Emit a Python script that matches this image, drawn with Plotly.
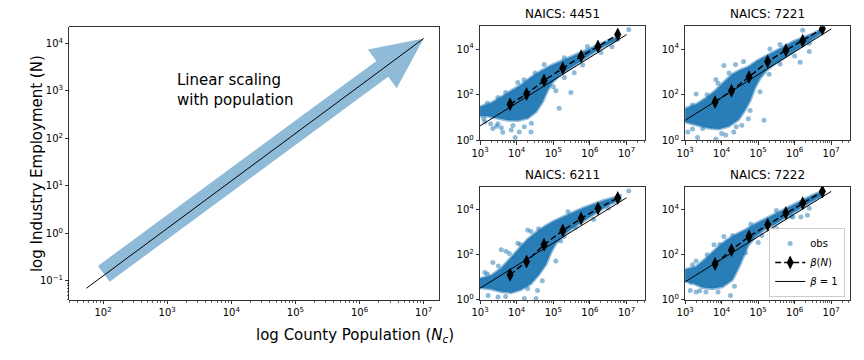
import numpy as np
import plotly.graph_objects as go

FIG_W, FIG_H = 864, 360
FONT = "DejaVu Sans"
C0 = "31,119,180"


def fx(sx):
    return sx / FIG_W


def fy(sy):
    return 1 - sy / FIG_H


# ---------------- left panel ----------------
line_pop = [5.5e1, 1.0e7]
line_emp = [7.0e-2, 1.26e4]
arrow_tail = (1.03e2, 1.41e-1)
arrow_tip = (1.0e7, 1.26e4)
left_text = "Linear scaling<br>with population"

left_xticks = [1e2, 1e3, 1e4, 1e5, 1e6, 1e7]
left_xtext = ["10<sup>2</sup>", "10<sup>3</sup>", "10<sup>4</sup>", "10<sup>5</sup>", "10<sup>6</sup>", "10<sup>7</sup>"]
left_yticks = [1e-1, 1e0, 1e1, 1e2, 1e3, 1e4]
left_ytext = ["10<sup>−1</sup>", "10<sup>0</sup>", "10<sup>1</sup>", "10<sup>2</sup>", "10<sup>3</sup>", "10<sup>4</sup>"]
left_xminor = [m * 10 ** d for d in range(1, 7) for m in range(2, 10) if 3e1 <= m * 10 ** d <= 1.7e7]
left_yminor = [0.04, 0.05, 0.06, 0.07, 0.08, 0.09]

small_xticks = [1e3, 1e4, 1e5, 1e6, 1e7]
small_xtext = ["10<sup>3</sup>", "10<sup>4</sup>", "10<sup>5</sup>", "10<sup>6</sup>", "10<sup>7</sup>"]
small_yticks = [1e0, 1e2, 1e4]
small_ytext = ["10<sup>0</sup>", "10<sup>2</sup>", "10<sup>4</sup>"]
small_xminor = [m * 10 ** d for d in range(3, 8) for m in range(2, 10) if m * 10 ** d <= 3.3e7]

# ---------------- small panels ----------------
naics = ["4451", "7221", "6211", "7222"]
bin_pop = [6.6e3, 1.86e4, 5.6e4, 1.82e5, 5.75e5, 1.66e6, 5.75e6]
betaN_4451 = [38, 107, 417, 1445, 4786, 12882, 43652]
betaN_7221 = [48, 148, 603, 2818, 8913, 23442, 77625]
betaN_6211 = [13, 50, 275, 1175, 3981, 10965, 32359]
betaN_7222 = [39, 162, 631, 2089, 6918, 18621, 61660]

beta1_pop = [1.0e3, 1.0e7]
beta1_4451 = [4.3, 4.3e4]
beta1_7221 = [7.6, 7.6e4]
beta1_6211 = [3.3, 3.3e4]
beta1_7222 = [6.3, 6.3e4]

# dense core of observations (log10 population, log10 employment)
core_4451_lx = [2.9, 3.31, 3.58, 3.85, 4.12, 4.39, 4.66, 4.93, 5.20, 5.48, 5.75, 6.02, 6.29, 6.56, 6.79,
                6.79, 6.51, 6.24, 5.97, 5.70, 5.43, 5.16, 4.98, 4.84, 4.71, 4.53, 4.30, 4.03, 3.76, 3.49, 3.22, 2.9]
core_4451_ly = [1.42, 1.64, 1.90, 2.15, 2.43, 2.76, 3.04, 3.27, 3.46, 3.65, 3.83, 4.03, 4.24, 4.41, 4.55,
                4.42, 4.22, 3.99, 3.71, 3.42, 3.13, 2.83, 2.55, 2.18, 1.70, 1.25, 0.97, 0.87, 0.88, 0.97, 1.05, 1.08]
out_4451_lx = [7.06, 5.48, 5.16, 4.39, 3.96, 3.62, 3.35, 3.29, 3.85, 4.07, 5.57, 5.07, 3.13, 3.58, 3.49, 4.21,
               3.49, 4.03, 4.75, 5.93, 3.20, 3.70, 4.20, 4.50, 5.30, 5.00, 5.30, 5.80, 6.30, 6.60, 3.90, 4.40,
               3.10, 3.45]
out_4451_ly = [4.86, 2.10, 1.41, 0.37, 0.12, 0.35, 0.52, 0.73, 0.45, 0.37, 2.96, 2.17, 0.81, 0.55, 0.73, 0.59,
               1.88, 2.53, 3.32, 4.11, 1.62, 2.10, 2.65, 2.95, 3.62, 2.35, 2.75, 3.30, 3.85, 4.10, 0.65, 0.75,
               0.95, 0.62]

core_7221_lx = [2.9, 3.30, 3.57, 3.84, 4.06, 4.29, 4.51, 4.73, 4.96, 5.18, 5.45, 5.72, 5.99, 6.26, 6.53, 6.76,
                6.76, 6.49, 6.22, 5.95, 5.68, 5.45, 5.23, 5.05, 4.91, 4.78, 4.64, 4.46, 4.20, 3.93, 3.66, 3.39, 3.12, 2.9]
core_7221_ly = [1.33, 1.57, 1.85, 2.20, 2.55, 2.90, 3.08, 3.22, 3.48, 3.66, 3.89, 4.12, 4.35, 4.52, 4.69, 4.88,
                4.73, 4.43, 4.14, 3.85, 3.57, 3.35, 3.07, 2.72, 2.30, 1.75, 1.33, 0.90, 0.62, 0.50, 0.53, 0.65, 0.77, 0.84]
out_7221_lx = [6.22, 6.40, 6.15, 5.16, 5.05, 4.78, 3.30, 3.07, 3.34, 3.84, 4.11, 4.33, 4.06, 4.38, 5.32, 3.48,
               4.73, 4.55, 3.84, 3.20, 3.60, 3.90, 4.20, 4.60, 5.60, 5.30, 5.60, 6.00, 6.40, 4.00, 4.40, 3.20]
out_7221_ly = [4.83, 3.89, 3.42, 0.88, 2.13, 1.31, 2.03, 0.37, 0.12, 0.06, 0.23, 0.37, 3.28, 3.32, 4.00, 0.52,
               0.95, 0.66, 2.67, 1.55, 2.00, 2.50, 2.95, 3.45, 4.20, 2.90, 3.35, 3.70, 4.25, 0.30, 0.60, 0.50]

core_6211_lx = [2.9, 3.31, 3.58, 3.85, 4.07, 4.30, 4.53, 4.75, 5.02, 5.29, 5.57, 5.84, 6.11, 6.38, 6.65, 6.83,
                6.83, 6.56, 6.29, 6.02, 5.75, 5.48, 5.25, 5.07, 4.93, 4.80, 4.62, 4.39, 4.12, 3.85, 3.58, 3.31, 2.9]
core_6211_ly = [0.90, 1.08, 1.40, 1.88, 2.24, 2.68, 2.98, 3.23, 3.49, 3.70, 3.89, 4.08, 4.25, 4.40, 4.52, 4.61,
                4.44, 4.23, 3.98, 3.70, 3.41, 3.12, 2.81, 2.49, 2.08, 1.58, 1.15, 0.72, 0.45, 0.32, 0.36, 0.48, 0.55]
out_6211_lx = [7.06, 4.39, 3.35, 3.58, 3.94, 4.03, 5.07, 4.57, 4.21, 3.49, 3.13, 5.29, 3.71, 4.30, 3.22, 4.53,
               3.20, 3.50, 3.80, 4.10, 4.60, 5.40, 5.20, 5.60, 6.10, 6.50, 3.70, 4.30, 4.70]
out_6211_ly = [4.82, 3.02, 1.65, 2.22, 1.86, 2.51, 1.72, 0.42, 0.06, 0.13, 1.21, 2.80, 2.15, 3.09, 0.20, 0.06,
               1.15, 1.50, 2.05, 2.45, 3.15, 3.90, 2.60, 3.20, 3.55, 4.05, 0.15, 0.50, 0.85]

core_7222_lx = [2.9, 3.30, 3.57, 3.84, 4.11, 4.38, 4.64, 4.91, 5.18, 5.45, 5.72, 5.99, 6.26, 6.53, 6.76,
                6.76, 6.53, 6.26, 5.99, 5.72, 5.45, 5.18, 4.91, 4.73, 4.60, 4.47, 4.29, 4.02, 3.75, 3.48, 3.21, 2.9]
core_7222_ly = [1.31, 1.47, 1.83, 2.25, 2.62, 2.88, 3.09, 3.35, 3.57, 3.79, 4.01, 4.22, 4.44, 4.66, 4.80,
                4.62, 4.41, 4.15, 3.87, 3.62, 3.33, 3.12, 2.77, 2.43, 1.94, 1.45, 0.88, 0.58, 0.50, 0.55, 0.74, 0.87]
out_7222_lx = [4.06, 3.30, 3.16, 3.14, 3.30, 4.24, 5.00, 6.17, 4.65, 3.79, 3.57, 5.95, 6.35, 3.07,
               3.20, 3.60, 3.95, 4.30, 4.80, 5.50, 5.10, 5.50, 5.90, 6.40, 3.90, 4.35, 3.40]
out_7222_ly = [2.80, 1.72, 0.78, 0.42, 0.35, 0.20, 2.54, 3.67, 2.08, 2.44, 0.35, 3.67, 3.74, 1.07,
               1.55, 2.00, 2.45, 2.85, 3.35, 3.95, 2.85, 3.15, 3.70, 4.05, 0.35, 0.60, 0.40]

# ---------------- layout geometry (screen pixels -> paper) ----------------
left_dom_x = [fx(61), fx(435)]
left_dom_y = [fy(305), fy(27)]
left_rx = [1.475, 7.247]
left_ry = [-1.40, 4.352]
col_dom = [[fx(476), fx(643.3)], [fx(683.3), fx(850)]]
row_dom = [[fy(142.7), fy(26.7)], [fy(305), fy(190)]]
small_rx = [3.0, 7.52]
small_ry = [0.0, 5.0]

fig = go.Figure()

# arrow polygon built in pixel space of the left axes
wpx = (left_dom_x[1] - left_dom_x[0]) * FIG_W
hpx = (left_dom_y[1] - left_dom_y[0]) * FIG_H


def to_px(x, y):
    return ((np.log10(x) - left_rx[0]) / (left_rx[1] - left_rx[0]) * wpx,
            (np.log10(y) - left_ry[0]) / (left_ry[1] - left_ry[0]) * hpx)


def from_px(px, py):
    return (10 ** (left_rx[0] + px / wpx * (left_rx[1] - left_rx[0])),
            10 ** (left_ry[0] + py / hpx * (left_ry[1] - left_ry[0])))


T = np.array(to_px(*arrow_tail))
P = np.array(to_px(*arrow_tip))
u = (P - T) / np.linalg.norm(P - T)
n = np.array([-u[1], u[0]])
sw, hw, hl = 10.0, 24.5, 52.0
B = P - u * hl
poly = [T + n * sw, B + n * sw, B + n * hw, P, B - n * hw, B - n * sw, T - n * sw, T + n * sw]
ax_x, ax_y = zip(*[from_px(*p) for p in poly])
fig.add_trace(go.Scatter(x=ax_x, y=ax_y, mode="lines", fill="toself",
                         fillcolor=f"rgba({C0},0.5)", line=dict(width=0),
                         xaxis="x", yaxis="y", showlegend=False, hoverinfo="skip"))
fig.add_trace(go.Scatter(x=line_pop, y=line_emp, mode="lines", line=dict(color="black", width=1),
                         xaxis="x", yaxis="y", showlegend=False))

panels = [
    ("4451", core_4451_lx, core_4451_ly, out_4451_lx, out_4451_ly, betaN_4451, beta1_4451),
    ("7221", core_7221_lx, core_7221_ly, out_7221_lx, out_7221_ly, betaN_7221, beta1_7221),
    ("6211", core_6211_lx, core_6211_ly, out_6211_lx, out_6211_ly, betaN_6211, beta1_6211),
    ("7222", core_7222_lx, core_7222_ly, out_7222_lx, out_7222_ly, betaN_7222, beta1_7222),
]

for i, (code, clx, cly, olx, oly, bN, b1) in enumerate(panels):
    xa, ya = f"x{i + 2}", f"y{i + 2}"
    leg = (i == 3)
    fig.add_trace(go.Scatter(x=10 ** np.array(clx), y=10 ** np.array(cly), mode="lines", fill="toself",
                             fillcolor=f"rgba({C0},0.95)", line=dict(color=f"rgba({C0},0.5)", width=3),
                             xaxis=xa, yaxis=ya, showlegend=False, hoverinfo="skip"))
    fig.add_trace(go.Scatter(x=10 ** np.array(olx), y=10 ** np.array(oly), mode="markers",
                             marker=dict(color=f"rgba({C0},0.5)", size=5, line=dict(width=0)),
                             name="obs", xaxis=xa, yaxis=ya, showlegend=leg))
    fig.add_trace(go.Scatter(x=bin_pop, y=bN, mode="lines+markers",
                             line=dict(color="black", width=1.5, dash="6px,3px"),
                             marker=dict(symbol="diamond-tall", size=10, color="black"),
                             name="<i>β</i>(<i>N</i>)", xaxis=xa, yaxis=ya, showlegend=leg))
    fig.add_trace(go.Scatter(x=beta1_pop, y=b1, mode="lines", line=dict(color="black", width=1),
                             name="<i>β</i> = 1", xaxis=xa, yaxis=ya, showlegend=leg))

axis_common = dict(type="log", showgrid=False, zeroline=False, showline=True, linecolor="black",
                   linewidth=0.8, mirror=True, ticks="outside", ticklen=3.5, tickwidth=0.8,
                   tickcolor="black", tickfont=dict(family=FONT, size=10, color="black"),
                   tickmode="array")


def minor(vals):
    return dict(tickmode="array", tickvals=vals, ticks="outside", ticklen=2, tickwidth=0.6,
                tickcolor="black", showgrid=False)


layout = dict(
    width=FIG_W, height=FIG_H, margin=dict(l=0, r=0, t=0, b=0),
    paper_bgcolor="white", plot_bgcolor="white",
    font=dict(family=FONT, size=10, color="black"),
    xaxis=dict(axis_common, domain=left_dom_x, range=left_rx, anchor="y",
               tickvals=left_xticks, ticktext=left_xtext, minor=minor(left_xminor)),
    yaxis=dict(axis_common, domain=left_dom_y, range=left_ry, anchor="x",
               tickvals=left_yticks, ticktext=left_ytext, minor=minor(left_yminor)),
    legend=dict(x=fx(845), xanchor="right", y=fy(302), yanchor="bottom",
                bgcolor="rgba(255,255,255,0.8)", bordercolor="#cccccc", borderwidth=1,
                font=dict(family=FONT, size=10, color="black"), itemwidth=30,
                tracegroupgap=0),
)
for i in range(4):
    r, c = divmod(i, 2)
    layout[f"xaxis{i + 2}"] = dict(axis_common, domain=col_dom[c], range=small_rx, anchor=f"y{i + 2}",
                                   tickvals=small_xticks, ticktext=small_xtext, minor=minor(small_xminor))
    layout[f"yaxis{i + 2}"] = dict(axis_common, domain=row_dom[r], range=small_ry, anchor=f"x{i + 2}",
                                   tickvals=small_yticks, ticktext=small_ytext)

annotations = [
    dict(text=left_text, x=fx(168), y=fy(92), xref="paper", yref="paper",
         xanchor="left", yanchor="middle", align="left", showarrow=False,
         font=dict(family=FONT, size=15, color="black")),
    dict(text="log Industry Employment (N)", x=fx(17), y=(left_dom_y[0] + left_dom_y[1]) / 2,
         xref="paper", yref="paper", textangle=-90, showarrow=False,
         font=dict(family=FONT, size=15, color="black")),
    dict(text="log County Population (<i>N<sub>c</sub></i>)", x=(left_dom_x[0] + left_dom_x[1]) / 2,
         y=fy(341), xref="paper", yref="paper", showarrow=False, yanchor="middle",
         font=dict(family=FONT, size=15, color="black")),
]
for i, code in enumerate(naics):
    r, c = divmod(i, 2)
    annotations.append(dict(text=f"NAICS: {code}", x=(col_dom[c][0] + col_dom[c][1]) / 2,
                            y=row_dom[r][1], xref="paper", yref="paper", xanchor="center",
                            yanchor="bottom", yshift=3, showarrow=False,
                            font=dict(family=FONT, size=12, color="black")))
layout["annotations"] = annotations
fig.update_layout(**layout)

fig.write_html("out.html", config={"staticPlot": True, "displayModeBar": False},
               post_script="document.body.style.margin='0';document.body.style.overflow='hidden';")
